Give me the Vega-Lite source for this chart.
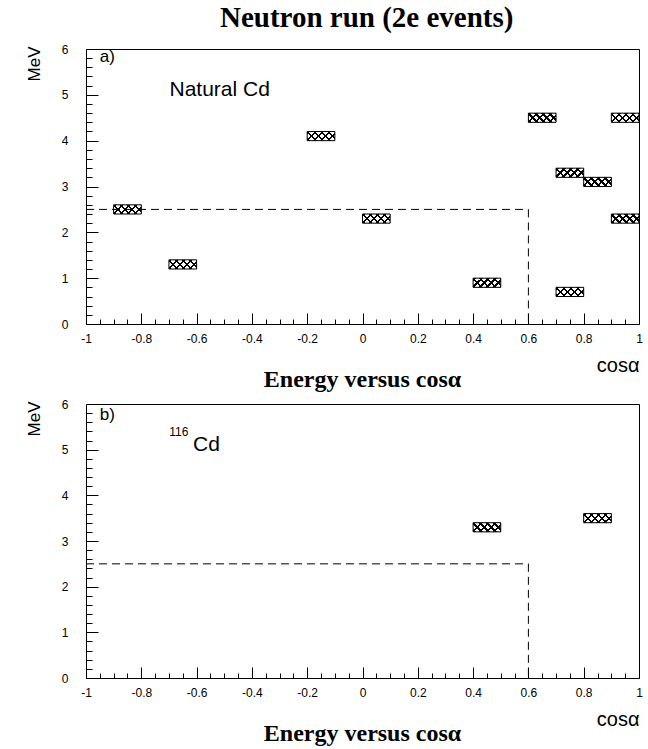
{
  "$schema": "https://vega.github.io/schema/vega-lite/v6.json",
  "background": "white",
  "padding": {"left": 24, "top": 3, "right": 5, "bottom": 2},
  "title": {"text": "Neutron run (2e events)", "font": "Liberation Serif", "fontSize": 29, "fontWeight": "bold", "color": "black", "anchor": "middle", "dx": 33, "offset": 10},
  "spacing": 4,
  "config": {"view": {"stroke": "black", "strokeWidth": 1, "strokeOpacity": 1}},
  "datasets": {
    "natural": [
      {"cos_lo": -0.9, "cos_hi": -0.8, "E_lo": 2.4, "E_hi": 2.6},
      {"cos_lo": -0.7, "cos_hi": -0.6, "E_lo": 1.2, "E_hi": 1.4},
      {"cos_lo": -0.2, "cos_hi": -0.1, "E_lo": 4.0, "E_hi": 4.2},
      {"cos_lo": 0.0, "cos_hi": 0.1, "E_lo": 2.2, "E_hi": 2.4},
      {"cos_lo": 0.4, "cos_hi": 0.5, "E_lo": 0.8, "E_hi": 1.0},
      {"cos_lo": 0.6, "cos_hi": 0.7, "E_lo": 4.4, "E_hi": 4.6},
      {"cos_lo": 0.9, "cos_hi": 1.0, "E_lo": 4.4, "E_hi": 4.6},
      {"cos_lo": 0.7, "cos_hi": 0.8, "E_lo": 3.2, "E_hi": 3.4},
      {"cos_lo": 0.8, "cos_hi": 0.9, "E_lo": 3.0, "E_hi": 3.2},
      {"cos_lo": 0.9, "cos_hi": 1.0, "E_lo": 2.2, "E_hi": 2.4},
      {"cos_lo": 0.7, "cos_hi": 0.8, "E_lo": 0.6, "E_hi": 0.8}
    ],
    "cd116": [
      {"cos_lo": 0.4, "cos_hi": 0.5, "E_lo": 3.2, "E_hi": 3.4},
      {"cos_lo": 0.8, "cos_hi": 0.9, "E_lo": 3.4, "E_hi": 3.6}
    ],
    "cuts": [
      {"cos_min": -1, "cos_cut": 0.6, "E_min": 0, "E_cut": 2.5}
    ]
  },
  "vconcat": [
    {
      "width": 553,
      "height": 275,
      "title": {"text": "Energy versus cosα", "orient": "bottom", "font": "Liberation Serif", "fontSize": 24, "fontWeight": "bold", "color": "black", "anchor": "middle", "frame": "group", "offset": -7},
      "resolve": {"axis": {"x": "independent", "y": "independent"}},
      "layer": [
        {
          "data": {"name": "natural"},
          "mark": {"type": "rect", "stroke": null, "fill": {"gradient": "linear", "x1": 0, "y1": 0, "x2": 1.2, "y2": 0.398, "stops": [
            {"offset": 0, "color": "white"}, {"offset": 0.02, "color": "white"}, {"offset": 0.02, "color": "black"}, {"offset": 0.08, "color": "black"}, {"offset": 0.08, "color": "white"},
            {"offset": 0.21, "color": "white"}, {"offset": 0.21, "color": "black"}, {"offset": 0.27, "color": "black"}, {"offset": 0.27, "color": "white"},
            {"offset": 0.40, "color": "white"}, {"offset": 0.40, "color": "black"}, {"offset": 0.46, "color": "black"}, {"offset": 0.46, "color": "white"},
            {"offset": 0.59, "color": "white"}, {"offset": 0.59, "color": "black"}, {"offset": 0.65, "color": "black"}, {"offset": 0.65, "color": "white"},
            {"offset": 0.78, "color": "white"}, {"offset": 0.78, "color": "black"}, {"offset": 0.84, "color": "black"}, {"offset": 0.84, "color": "white"},
            {"offset": 0.97, "color": "white"}, {"offset": 0.97, "color": "black"}, {"offset": 1, "color": "black"}]}},
          "encoding": {
            "x": {"field": "cos_lo", "type": "quantitative", "scale": {"domain": [-1, 1], "nice": false, "zero": false},
              "axis": {"orient": "bottom", "offset": -11, "values": [-1, -0.8, -0.6, -0.4, -0.2, 0, 0.2, 0.4, 0.6, 0.8, 1], "grid": false, "domain": false, "ticks": true, "tickSize": 11, "tickColor": "black", "tickWidth": 1, "labelPadding": 9, "labelFont": "Liberation Sans", "labelFontSize": 12, "labelColor": "black", "labelBaseline": "top", "labelFlush": false, "labelOverlap": false, "labelExpr": "'' + datum.value", "title": "cosα", "titleFont": "Liberation Sans", "titleFontSize": 20, "titleFontWeight": "normal", "titleColor": "black", "titleX": 553, "titleY": 58, "titleAlign": "right", "titleBaseline": "alphabetic"}},
            "x2": {"field": "cos_hi"},
            "y": {"field": "E_lo", "type": "quantitative", "scale": {"domain": [0, 6], "nice": false, "zero": false},
              "axis": {"orient": "left", "offset": -12, "values": [0, 1, 2, 3, 4, 5, 6], "grid": false, "domain": false, "ticks": true, "tickSize": 12, "tickColor": "black", "tickWidth": 1, "labelPadding": 18, "labelFont": "Liberation Sans", "labelFontSize": 12, "labelColor": "black", "labelFlush": false, "labelOverlap": false, "labelExpr": "'' + datum.value", "title": "MeV", "titleFont": "Liberation Sans", "titleFontSize": 17, "titleFontWeight": "normal", "titleColor": "black", "titleAngle": -90, "titleX": -59, "titleY": -3, "titleAlign": "right", "titleBaseline": "alphabetic"}},
            "y2": {"field": "E_hi"}
          }
        },
        {
          "data": {"name": "natural"},
          "mark": {"type": "rect", "stroke": "black", "strokeWidth": 1, "fill": {"gradient": "linear", "x1": 0, "y1": 1, "x2": 1.2, "y2": 0.602, "stops": [
            {"offset": 0, "color": "rgba(0,0,0,0)"}, {"offset": 0.02, "color": "rgba(0,0,0,0)"}, {"offset": 0.02, "color": "black"}, {"offset": 0.08, "color": "black"}, {"offset": 0.08, "color": "rgba(0,0,0,0)"},
            {"offset": 0.21, "color": "rgba(0,0,0,0)"}, {"offset": 0.21, "color": "black"}, {"offset": 0.27, "color": "black"}, {"offset": 0.27, "color": "rgba(0,0,0,0)"},
            {"offset": 0.40, "color": "rgba(0,0,0,0)"}, {"offset": 0.40, "color": "black"}, {"offset": 0.46, "color": "black"}, {"offset": 0.46, "color": "rgba(0,0,0,0)"},
            {"offset": 0.59, "color": "rgba(0,0,0,0)"}, {"offset": 0.59, "color": "black"}, {"offset": 0.65, "color": "black"}, {"offset": 0.65, "color": "rgba(0,0,0,0)"},
            {"offset": 0.78, "color": "rgba(0,0,0,0)"}, {"offset": 0.78, "color": "black"}, {"offset": 0.84, "color": "black"}, {"offset": 0.84, "color": "rgba(0,0,0,0)"},
            {"offset": 0.97, "color": "rgba(0,0,0,0)"}, {"offset": 0.97, "color": "black"}, {"offset": 1, "color": "black"}]}},
          "encoding": {
            "x": {"field": "cos_lo", "type": "quantitative",
              "axis": {"orient": "bottom", "offset": -5, "values": [-0.95, -0.9, -0.85, -0.75, -0.7, -0.65, -0.55, -0.5, -0.45, -0.35, -0.3, -0.25, -0.15, -0.1, -0.05, 0.05, 0.1, 0.15, 0.25, 0.3, 0.35, 0.45, 0.5, 0.55, 0.65, 0.7, 0.75, 0.85, 0.9, 0.95], "grid": false, "domain": false, "labels": false, "ticks": true, "tickSize": 5, "tickColor": "black", "tickWidth": 1, "title": null}},
            "x2": {"field": "cos_hi"},
            "y": {"field": "E_lo", "type": "quantitative",
              "axis": {"orient": "left", "offset": -6, "values": [0.2, 0.4, 0.6, 0.8, 1.2, 1.4, 1.6, 1.8, 2.2, 2.4, 2.6, 2.8, 3.2, 3.4, 3.6, 3.8, 4.2, 4.4, 4.6, 4.8, 5.2, 5.4, 5.6, 5.8], "grid": false, "domain": false, "labels": false, "ticks": true, "tickSize": 6, "tickColor": "black", "tickWidth": 1, "title": null}},
            "y2": {"field": "E_hi"}
          }
        },
        {
          "data": {"name": "cuts"},
          "mark": {"type": "rule", "color": "black", "strokeWidth": 1, "strokeDash": [8, 5]},
          "encoding": {
            "x": {"field": "cos_min", "type": "quantitative", "axis": null},
            "x2": {"field": "cos_cut"},
            "y": {"field": "E_cut", "type": "quantitative", "axis": null}
          }
        },
        {
          "data": {"name": "cuts"},
          "mark": {"type": "rule", "color": "black", "strokeWidth": 1, "strokeDash": [8, 5]},
          "encoding": {
            "x": {"field": "cos_cut", "type": "quantitative", "axis": null},
            "y": {"field": "E_cut", "type": "quantitative", "axis": null},
            "y2": {"field": "E_min"}
          }
        },
        {
          "data": {"values": [{}]},
          "mark": {"type": "text", "text": "a)", "font": "Liberation Sans", "fontSize": 17, "align": "left", "baseline": "alphabetic", "color": "black"},
          "encoding": {
            "x": {"datum": -0.95, "type": "quantitative", "axis": null},
            "y": {"datum": 5.72, "type": "quantitative", "axis": null}
          }
        },
        {
          "data": {"values": [{}]},
          "mark": {"type": "text", "text": "Natural Cd", "font": "Liberation Sans", "fontSize": 21, "align": "left", "baseline": "alphabetic", "color": "black"},
          "encoding": {
            "x": {"datum": -0.698, "type": "quantitative", "axis": null},
            "y": {"datum": 4.97, "type": "quantitative", "axis": null}
          }
        }
      ]
    },
    {
      "width": 553,
      "height": 274,
      "title": {"text": "Energy versus cosα", "orient": "bottom", "font": "Liberation Serif", "fontSize": 24, "fontWeight": "bold", "color": "black", "anchor": "middle", "frame": "group", "offset": -7},
      "resolve": {"axis": {"x": "independent", "y": "independent"}},
      "layer": [
        {
          "data": {"name": "cd116"},
          "mark": {"type": "rect", "stroke": null, "fill": {"gradient": "linear", "x1": 0, "y1": 0, "x2": 1.2, "y2": 0.398, "stops": [
            {"offset": 0, "color": "white"}, {"offset": 0.02, "color": "white"}, {"offset": 0.02, "color": "black"}, {"offset": 0.08, "color": "black"}, {"offset": 0.08, "color": "white"},
            {"offset": 0.21, "color": "white"}, {"offset": 0.21, "color": "black"}, {"offset": 0.27, "color": "black"}, {"offset": 0.27, "color": "white"},
            {"offset": 0.40, "color": "white"}, {"offset": 0.40, "color": "black"}, {"offset": 0.46, "color": "black"}, {"offset": 0.46, "color": "white"},
            {"offset": 0.59, "color": "white"}, {"offset": 0.59, "color": "black"}, {"offset": 0.65, "color": "black"}, {"offset": 0.65, "color": "white"},
            {"offset": 0.78, "color": "white"}, {"offset": 0.78, "color": "black"}, {"offset": 0.84, "color": "black"}, {"offset": 0.84, "color": "white"},
            {"offset": 0.97, "color": "white"}, {"offset": 0.97, "color": "black"}, {"offset": 1, "color": "black"}]}},
          "encoding": {
            "x": {"field": "cos_lo", "type": "quantitative", "scale": {"domain": [-1, 1], "nice": false, "zero": false},
              "axis": {"orient": "bottom", "offset": -11, "values": [-1, -0.8, -0.6, -0.4, -0.2, 0, 0.2, 0.4, 0.6, 0.8, 1], "grid": false, "domain": false, "ticks": true, "tickSize": 11, "tickColor": "black", "tickWidth": 1, "labelPadding": 9, "labelFont": "Liberation Sans", "labelFontSize": 12, "labelColor": "black", "labelBaseline": "top", "labelFlush": false, "labelOverlap": false, "labelExpr": "'' + datum.value", "title": "cosα", "titleFont": "Liberation Sans", "titleFontSize": 20, "titleFontWeight": "normal", "titleColor": "black", "titleX": 553, "titleY": 58, "titleAlign": "right", "titleBaseline": "alphabetic"}},
            "x2": {"field": "cos_hi"},
            "y": {"field": "E_lo", "type": "quantitative", "scale": {"domain": [0, 6], "nice": false, "zero": false},
              "axis": {"orient": "left", "offset": -12, "values": [0, 1, 2, 3, 4, 5, 6], "grid": false, "domain": false, "ticks": true, "tickSize": 12, "tickColor": "black", "tickWidth": 1, "labelPadding": 18, "labelFont": "Liberation Sans", "labelFontSize": 12, "labelColor": "black", "labelFlush": false, "labelOverlap": false, "labelExpr": "'' + datum.value", "title": "MeV", "titleFont": "Liberation Sans", "titleFontSize": 17, "titleFontWeight": "normal", "titleColor": "black", "titleAngle": -90, "titleX": -59, "titleY": -3, "titleAlign": "right", "titleBaseline": "alphabetic"}},
            "y2": {"field": "E_hi"}
          }
        },
        {
          "data": {"name": "cd116"},
          "mark": {"type": "rect", "stroke": "black", "strokeWidth": 1, "fill": {"gradient": "linear", "x1": 0, "y1": 1, "x2": 1.2, "y2": 0.602, "stops": [
            {"offset": 0, "color": "rgba(0,0,0,0)"}, {"offset": 0.02, "color": "rgba(0,0,0,0)"}, {"offset": 0.02, "color": "black"}, {"offset": 0.08, "color": "black"}, {"offset": 0.08, "color": "rgba(0,0,0,0)"},
            {"offset": 0.21, "color": "rgba(0,0,0,0)"}, {"offset": 0.21, "color": "black"}, {"offset": 0.27, "color": "black"}, {"offset": 0.27, "color": "rgba(0,0,0,0)"},
            {"offset": 0.40, "color": "rgba(0,0,0,0)"}, {"offset": 0.40, "color": "black"}, {"offset": 0.46, "color": "black"}, {"offset": 0.46, "color": "rgba(0,0,0,0)"},
            {"offset": 0.59, "color": "rgba(0,0,0,0)"}, {"offset": 0.59, "color": "black"}, {"offset": 0.65, "color": "black"}, {"offset": 0.65, "color": "rgba(0,0,0,0)"},
            {"offset": 0.78, "color": "rgba(0,0,0,0)"}, {"offset": 0.78, "color": "black"}, {"offset": 0.84, "color": "black"}, {"offset": 0.84, "color": "rgba(0,0,0,0)"},
            {"offset": 0.97, "color": "rgba(0,0,0,0)"}, {"offset": 0.97, "color": "black"}, {"offset": 1, "color": "black"}]}},
          "encoding": {
            "x": {"field": "cos_lo", "type": "quantitative",
              "axis": {"orient": "bottom", "offset": -5, "values": [-0.95, -0.9, -0.85, -0.75, -0.7, -0.65, -0.55, -0.5, -0.45, -0.35, -0.3, -0.25, -0.15, -0.1, -0.05, 0.05, 0.1, 0.15, 0.25, 0.3, 0.35, 0.45, 0.5, 0.55, 0.65, 0.7, 0.75, 0.85, 0.9, 0.95], "grid": false, "domain": false, "labels": false, "ticks": true, "tickSize": 5, "tickColor": "black", "tickWidth": 1, "title": null}},
            "x2": {"field": "cos_hi"},
            "y": {"field": "E_lo", "type": "quantitative",
              "axis": {"orient": "left", "offset": -6, "values": [0.2, 0.4, 0.6, 0.8, 1.2, 1.4, 1.6, 1.8, 2.2, 2.4, 2.6, 2.8, 3.2, 3.4, 3.6, 3.8, 4.2, 4.4, 4.6, 4.8, 5.2, 5.4, 5.6, 5.8], "grid": false, "domain": false, "labels": false, "ticks": true, "tickSize": 6, "tickColor": "black", "tickWidth": 1, "title": null}},
            "y2": {"field": "E_hi"}
          }
        },
        {
          "data": {"name": "cuts"},
          "mark": {"type": "rule", "color": "black", "strokeWidth": 1, "strokeDash": [8, 5]},
          "encoding": {
            "x": {"field": "cos_min", "type": "quantitative", "axis": null},
            "x2": {"field": "cos_cut"},
            "y": {"field": "E_cut", "type": "quantitative", "axis": null}
          }
        },
        {
          "data": {"name": "cuts"},
          "mark": {"type": "rule", "color": "black", "strokeWidth": 1, "strokeDash": [8, 5]},
          "encoding": {
            "x": {"field": "cos_cut", "type": "quantitative", "axis": null},
            "y": {"field": "E_cut", "type": "quantitative", "axis": null},
            "y2": {"field": "E_min"}
          }
        },
        {
          "data": {"values": [{}]},
          "mark": {"type": "text", "text": "b)", "font": "Liberation Sans", "fontSize": 17, "align": "left", "baseline": "alphabetic", "color": "black"},
          "encoding": {
            "x": {"datum": -0.95, "type": "quantitative", "axis": null},
            "y": {"datum": 5.65, "type": "quantitative", "axis": null}
          }
        },
        {
          "data": {"values": [{}]},
          "mark": {"type": "text", "text": "116", "font": "Liberation Sans", "fontSize": 12, "align": "left", "baseline": "alphabetic", "color": "black"},
          "encoding": {
            "x": {"datum": -0.699, "type": "quantitative", "axis": null},
            "y": {"datum": 5.3, "type": "quantitative", "axis": null}
          }
        },
        {
          "data": {"values": [{}]},
          "mark": {"type": "text", "text": "Cd", "font": "Liberation Sans", "fontSize": 21, "align": "left", "baseline": "alphabetic", "color": "black"},
          "encoding": {
            "x": {"datum": -0.613, "type": "quantitative", "axis": null},
            "y": {"datum": 4.97, "type": "quantitative", "axis": null}
          }
        }
      ]
    }
  ]
}
